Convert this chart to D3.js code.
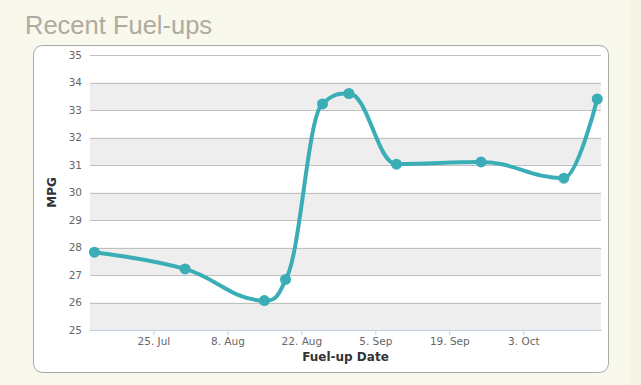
<!DOCTYPE html>
<html>
<head>
<meta charset="utf-8">
<script src="https://cdn.jsdelivr.net/npm/d3@7"></script>
<style>
  body { margin: 0; background: #f9f8ec; }
  svg { display: block; }
</style>
</head>
<body>
<div id="chart"></div>
<script>
// fuel-up data
var fuelDates = ["2011-07-13T20:00", "2011-07-31T00:00", "2011-08-15T00:00", "2011-08-19T00:00", "2011-08-26T00:00",
                 "2011-08-31T00:00", "2011-09-09T00:00", "2011-09-25T00:00", "2011-10-10T16:00", "2011-10-17T00:00"];
var mpgValues = [27.83, 27.22, 26.07, 26.84, 33.22, 33.6, 31.03, 31.11, 30.52, 33.4];
var yTicks = [25, 26, 27, 28, 29, 30, 31, 32, 33, 34, 35];
var xTickDates = ["2011-07-25", "2011-08-08", "2011-08-22", "2011-09-05", "2011-09-19", "2011-10-03"];
var xRange = ["2011-07-13T00:00", "2011-10-17T17:00"];

var width = 641, height = 385;
var margin = { top: 55, right: 40, bottom: 55, left: 90 };
var plotW = width - margin.left - margin.right,
    plotH = height - margin.top - margin.bottom;

var parse = d3.isoParse;
var data = fuelDates.map(function(d, i) {
  return { date: parse(d), mpg: mpgValues[i] };
});

var svg = d3.select("#chart").append("svg")
  .attr("width", width)
  .attr("height", height);

// slightly darker strip on the right
svg.append("rect")
  .attr("x", 630).attr("y", 0)
  .attr("width", width - 630).attr("height", height)
  .attr("fill", "#f5f5e6");

svg.append("text")
  .attr("x", 25).attr("y", 34)
  .style("font-family", "'Liberation Sans', Arial, sans-serif")
  .style("font-size", "25.5px")
  .attr("fill", "#aeaba0")
  .text("Recent Fuel-ups");

// panel
svg.append("rect")
  .attr("x", 33.5).attr("y", 45.5)
  .attr("width", 575).attr("height", 327)
  .attr("rx", 9).attr("ry", 9)
  .attr("fill", "#ffffff")
  .attr("stroke", "#a8a8a8");

var g = svg.append("g")
  .attr("transform", "translate(" + margin.left + "," + margin.top + ")");

var x = d3.scaleTime()
  .domain(xRange.map(parse))
  .range([0, plotW]);

var y = d3.scaleLinear()
  .domain([25, 35])
  .range([plotH, 0]);

// alternate bands (25-26, 27-28, ...)
g.selectAll(".band")
  .data(yTicks.filter(function(d) { return d % 2 === 1 && d < 35; }))
  .enter().append("rect")
  .attr("class", "band")
  .attr("x", 0)
  .attr("width", plotW)
  .attr("y", function(d) { return y(d + 1); })
  .attr("height", function(d) { return y(d) - y(d + 1); })
  .attr("fill", "#eeeeee");

var yAxis = d3.axisLeft(y)
  .tickValues(yTicks)
  .tickSize(-plotW)
  .tickPadding(8);

g.append("g")
  .attr("class", "y-axis")
  .call(yAxis)
  .call(function(a) {
    a.select(".domain").remove();
    a.selectAll("line").attr("stroke", "#c0c0c0").attr("shape-rendering", "crispEdges");
    a.selectAll("text")
      .attr("fill", "#666666")
      .style("font-family", "'DejaVu Sans', Verdana, sans-serif")
      .style("font-size", "10.5px");
  });

var xAxis = d3.axisBottom(x)
  .tickValues(xTickDates.map(parse))
  .tickSize(5)
  .tickSizeOuter(0)
  .tickPadding(3)
  .tickFormat(d3.timeFormat("%-d. %b"));

g.append("g")
  .attr("class", "x-axis")
  .attr("transform", "translate(0," + plotH + ")")
  .call(xAxis)
  .call(function(a) {
    a.select(".domain").attr("stroke", "#c0d0e0").attr("shape-rendering", "crispEdges");
    a.selectAll("line").attr("stroke", "#c0d0e0");
    a.selectAll("text")
      .attr("fill", "#666666")
      .style("font-family", "'DejaVu Sans', Verdana, sans-serif")
      .style("font-size", "10.5px");
  });

g.append("text")
  .attr("x", plotW / 2)
  .attr("y", plotH + 31)
  .attr("text-anchor", "middle")
  .style("font-family", "'DejaVu Sans', Verdana, sans-serif")
  .style("font-size", "12px")
  .style("font-weight", "bold")
  .attr("fill", "#333333")
  .text("Fuel-up Date");

g.append("text")
  .attr("transform", "translate(" + (-34) + "," + (plotH / 2) + ") rotate(-90)")
  .attr("text-anchor", "middle")
  .style("font-family", "'DejaVu Sans', Verdana, sans-serif")
  .style("font-size", "12px")
  .style("font-weight", "bold")
  .attr("fill", "#333333")
  .text("MPG");

// highcharts-like spline curve
function splineCurve(context) {
  var pts;
  return {
    areaStart: function() {},
    areaEnd: function() {},
    lineStart: function() { pts = []; },
    point: function(px, py) { pts.push([+px, +py]); },
    lineEnd: function() {
      var sm = 1.5, den = sm + 1, rc = [];
      pts.forEach(function(p, i) {
        var lcx = p[0], lcy = p[1];
        if (i > 0 && i < pts.length - 1) {
          var l = pts[i - 1], n = pts[i + 1];
          lcx = (sm * p[0] + l[0]) / den;
          lcy = (sm * p[1] + l[1]) / den;
          var rcx = (sm * p[0] + n[0]) / den,
              rcy = (sm * p[1] + n[1]) / den;
          var corr = ((rcy - lcy) * (rcx - p[0])) / (rcx - lcx) + p[1] - rcy;
          lcy += corr; rcy += corr;
          if (lcy > l[1] && lcy > p[1]) { lcy = Math.max(l[1], p[1]); rcy = 2 * p[1] - lcy; }
          else if (lcy < l[1] && lcy < p[1]) { lcy = Math.min(l[1], p[1]); rcy = 2 * p[1] - lcy; }
          if (rcy > n[1] && rcy > p[1]) { rcy = Math.max(n[1], p[1]); lcy = 2 * p[1] - rcy; }
          else if (rcy < n[1] && rcy < p[1]) { rcy = Math.min(n[1], p[1]); lcy = 2 * p[1] - rcy; }
          rc[i] = [rcx, rcy];
        } else {
          rc[i] = p;
        }
        if (i === 0) context.moveTo(p[0], p[1]);
        else context.bezierCurveTo(rc[i - 1][0], rc[i - 1][1], lcx, lcy, p[0], p[1]);
      });
    }
  };
}

var line = d3.line()
  .x(function(d) { return x(d.date); })
  .y(function(d) { return y(d.mpg); })
  .curve(splineCurve);

g.append("path")
  .datum(data)
  .attr("fill", "none")
  .attr("stroke", "#3aadb7")
  .attr("stroke-width", 4)
  .attr("stroke-linejoin", "round")
  .attr("d", line);

g.selectAll(".dot")
  .data(data)
  .enter().append("circle")
  .attr("class", "dot")
  .attr("cx", function(d) { return x(d.date); })
  .attr("cy", function(d) { return y(d.mpg); })
  .attr("r", 5.5)
  .attr("fill", "#3aadb7");
</script>
</body>
</html>
